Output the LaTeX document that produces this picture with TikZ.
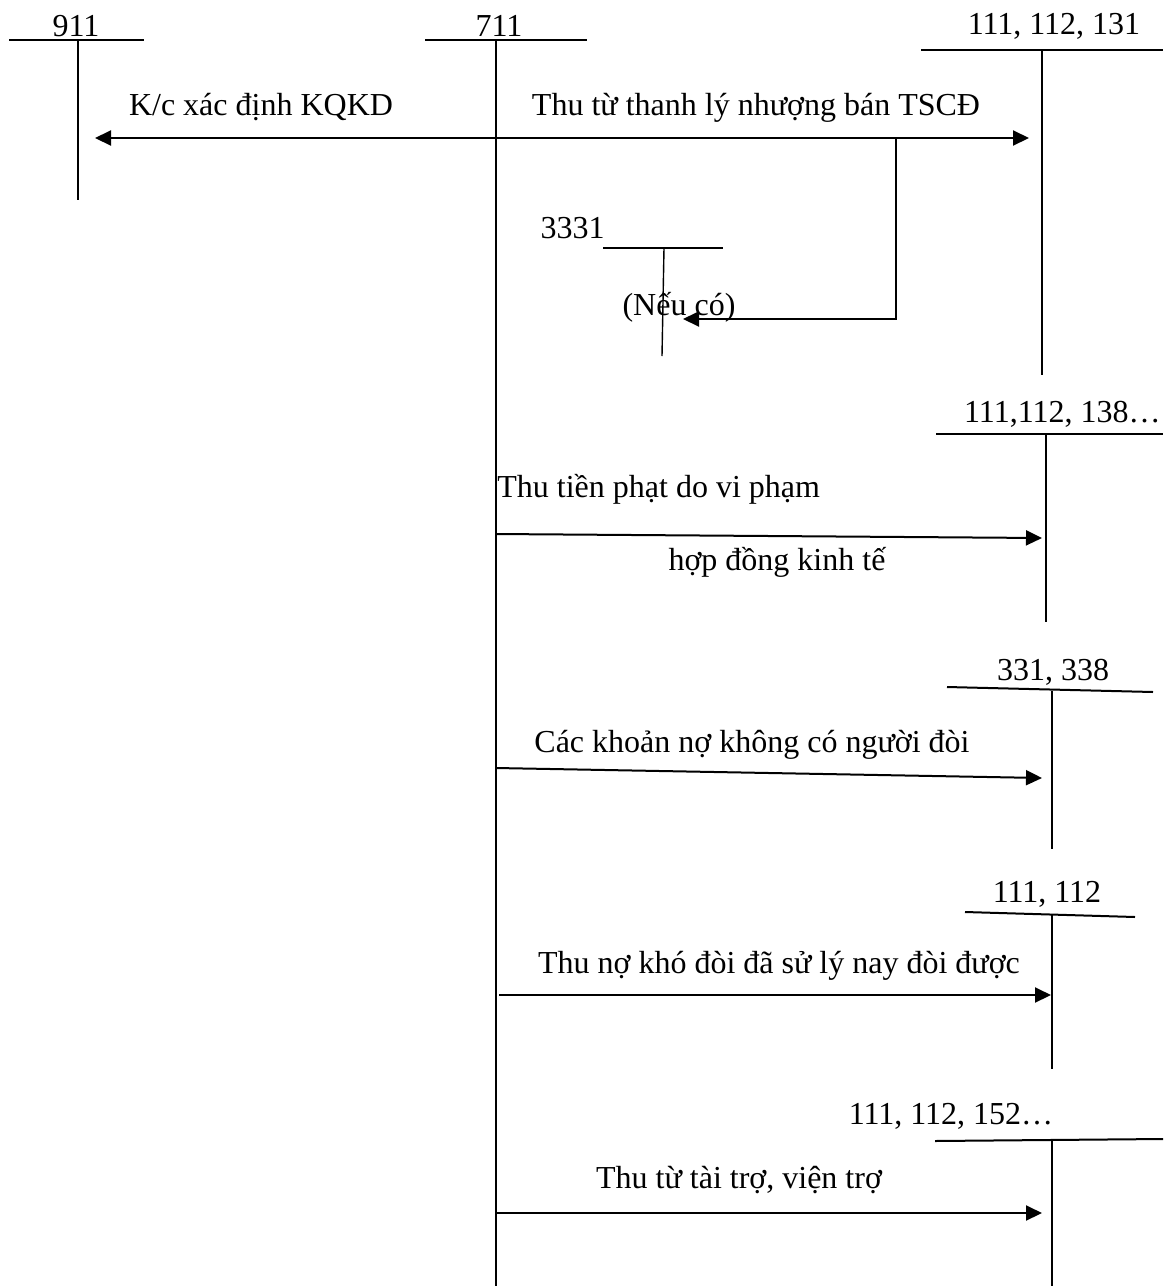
\documentclass[tikz,border=0pt]{standalone}
\usepackage{fontspec}
\setmainfont{Liberation Serif}
\usetikzlibrary{arrows.meta}
\begin{document}
\begin{tikzpicture}[x=0.5pt,y=-0.5pt,
  acct/.style={line width=1pt},
  stem/.style={line width=0.8pt},
  flow/.style={line width=1pt,-{Triangle[length=8pt,width=7.5pt]}},
  lbl/.style={inner sep=0pt,anchor=base,font=\fontsize{16}{19}\selectfont}]
\useasboundingbox (0,0) rectangle (1163,1286);

% --- T-account 911
\coordinate (k911l) at (9,40);   \coordinate (k911r) at (144,40);
\coordinate (k911t) at (78,40);  \coordinate (k911b) at (78,200);
\node[lbl] (n911) at (76,36) {911};
\draw[acct] (k911l) -- (k911r);
\draw[acct] (k911t) -- (k911b);

% --- T-account 711
\coordinate (k711l) at (425,40); \coordinate (k711r) at (587,40);
\coordinate (k711t) at (496,40); \coordinate (k711b) at (496,1286);
\node[lbl] (n711) at (499,36) {711};
\draw[acct] (k711l) -- (k711r);
\draw[acct] (k711t) -- (k711b);

% --- T-account 111, 112, 131
\coordinate (kAl) at (921,50);  \coordinate (kAr) at (1163,50);
\coordinate (kAt) at (1042,50); \coordinate (kAb) at (1042,375);
\node[lbl] (nA) at (1054,34) {111, 112, 131};
\draw[acct] (kAl) -- (kAr);
\draw[acct] (kAt) -- (kAb);

% --- T-account 3331
\coordinate (kVl) at (603,248); \coordinate (kVr) at (723,248);
\coordinate (kVt) at (664,248); \coordinate (kVb) at (662,356);
\node[lbl,anchor=base east] (nV) at (605,238) {3331};
\draw[acct] (kVl) -- (kVr);
\draw[line width=0.7pt] (kVt) -- (kVb);

% --- T-account 111,112, 138...
\coordinate (kBl) at (936,434);  \coordinate (kBr) at (1163,434);
\coordinate (kBt) at (1046,434); \coordinate (kBb) at (1046,622);
\node[lbl,anchor=base east] (nB) at (1161,422) {111,112, 138…};
\draw[acct] (kBl) -- (kBr);
\draw[stem] (kBt) -- (kBb);

% --- T-account 331, 338
\coordinate (kCl) at (947,687);  \coordinate (kCr) at (1153,692);
\coordinate (kCt) at (1052,691); \coordinate (kCb) at (1052,849);
\node[lbl] (nC) at (1053,680) {331, 338};
\draw[acct] (kCl) -- (kCr);
\draw[stem] (kCt) -- (kCb);

% --- T-account 111, 112
\coordinate (kDl) at (965,912);  \coordinate (kDr) at (1135,917);
\coordinate (kDt) at (1052,915); \coordinate (kDb) at (1052,1069);
\node[lbl] (nD) at (1047,902) {111, 112};
\draw[acct] (kDl) -- (kDr);
\draw[stem] (kDt) -- (kDb);

% --- T-account 111, 112, 152...
\coordinate (kEl) at (935,1141);  \coordinate (kEr) at (1163,1139);
\coordinate (kEt) at (1052,1140); \coordinate (kEb) at (1052,1286);
\node[lbl] (nE) at (951,1124) {111, 112, 152…};
\draw[acct] (kEl) -- (kEr);
\draw[stem] (kEt) -- (kEb);

% --- Row 1: closing to 911 and disposal of fixed assets
\coordinate (r1o) at (496,138);
\coordinate (r1l) at (95,138);
\coordinate (r1r) at (1029,138);
\draw[flow] (r1o) -- (r1l);
\draw[flow] (r1o) -- (r1r);
\node[lbl] (t1l) at (261,115) {K/c xác định KQKD};
\node[lbl] (t1r) at (756,115) {Thu từ thanh lý nhượng bán TSCĐ};

% VAT branch into 3331
\coordinate (vb0) at (896,138);
\coordinate (vb1) at (896,319);
\coordinate (vb2) at (683,319);
\draw[flow] (vb0) -- (vb1) -- (vb2);
\node[lbl] (tV) at (679,315) {(Nếu có)};

% --- Row 2: penalties received
\coordinate (r2o) at (496,534);
\coordinate (r2e) at (1042,538);
\draw[flow] (r2o) -- (r2e);
\node[lbl,anchor=base west] (t2a) at (497,497) {Thu tiền phạt do vi phạm};
\node[lbl] (t2b) at (777,570) {hợp đồng kinh tế};

% --- Row 3: payables without claimant
\coordinate (r3o) at (496,768);
\coordinate (r3e) at (1042,778);
\draw[flow] (r3o) -- (r3e);
\node[lbl] (t3) at (752,752) {Các khoản nợ không có người đòi};

% --- Row 4: recovered bad debts
\coordinate (r4o) at (499,995);
\coordinate (r4e) at (1051,995);
\draw[flow] (r4o) -- (r4e);
\node[lbl] (t4) at (779,973) {Thu nợ khó đòi đã sử lý nay đòi được};

% --- Row 5: grants and aid
\coordinate (r5o) at (496,1213);
\coordinate (r5e) at (1042,1213);
\draw[flow] (r5o) -- (r5e);
\node[lbl] (t5) at (739,1188) {Thu từ tài trợ, viện trợ};
\end{tikzpicture}
\end{document}
